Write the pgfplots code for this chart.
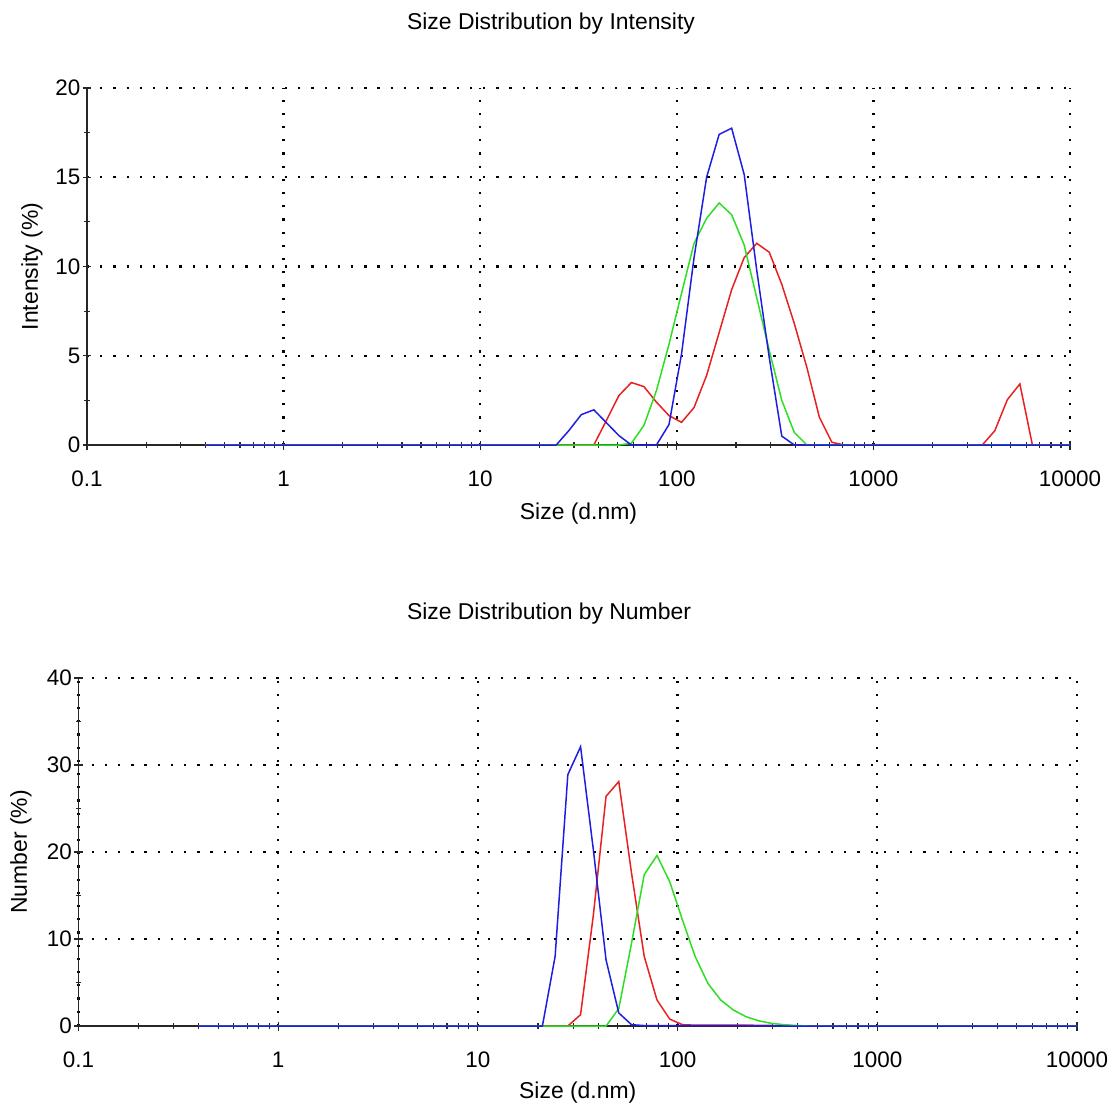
\documentclass[border=0pt]{standalone}
\usepackage{pgfplots}
\usepackage{pgfplotstable}
\pgfplotsset{compat=1.18}
\usepackage{fontspec}
\setmainfont{Liberation Sans}
\definecolor{dlsred}{RGB}{232,32,32}
\definecolor{dlsgreen}{RGB}{45,222,35}
\definecolor{dlsblue}{RGB}{30,30,225}

% size, intensity (red, green, blue), number (red, green, blue)
\pgfplotstableread{
s iR iG iB nR nG nB
0.4000 0 0 0 0 0 0
0.4632 0 0 0 0 0 0
0.5365 0 0 0 0 0 0
0.6213 0 0 0 0 0 0
0.7195 0 0 0 0 0 0
0.8332 0 0 0 0 0 0
0.9649 0 0 0 0 0 0
1.117 0 0 0 0 0 0
1.294 0 0 0 0 0 0
1.499 0 0 0 0 0 0
1.736 0 0 0 0 0 0
2.010 0 0 0 0 0 0
2.328 0 0 0 0 0 0
2.696 0 0 0 0 0 0
3.122 0 0 0 0 0 0
3.615 0 0 0 0 0 0
4.187 0 0 0 0 0 0
4.849 0 0 0 0 0 0
5.615 0 0 0 0 0 0
6.503 0 0 0 0 0 0
7.531 0 0 0 0 0 0
8.721 0 0 0 0 0 0
10.10 0 0 0 0 0 0
11.70 0 0 0 0 0 0
13.54 0 0 0 0 0 0
15.69 0 0 0 0 0 0
18.17 0 0 0 0 0 0
21.04 0 0 0 0 0 0
24.36 0 0 0 0 0 8.0
28.21 0 0 0.8 0 0 28.9
32.67 0 0 1.7 1.3 0 32.1
37.84 0 0 1.97 12.7 0 20.3
43.82 1.37 0 1.25 26.4 0 7.6
50.75 2.77 0 0.53 28.1 2.0 1.5
58.77 3.5 0.1 0 17.6 9.5 0.15
68.06 3.27 1.1 0 8.0 17.4 0.05
78.82 2.4 3.05 0 3.0 19.6 0.05
91.28 1.65 5.65 1.15 0.8 16.6 0.05
105.7 1.27 8.5 5.1 0.15 12.2 0.05
122.4 2.1 11.3 10.5 0.1 8.0 0.05
141.8 3.9 12.7 15.0 0.1 4.9 0.05
164.2 6.3 13.56 17.4 0.1 3.0 0.05
190.1 8.7 12.9 17.75 0.1 1.84 0.05
220.2 10.5 11.2 15.15 0.1 1.07 0.03
255.0 11.3 8.25 9.8 0.08 0.6 0.02
295.3 10.8 5.3 4.9 0.06 0.3 0.01
342.0 9.0 2.5 0.5 0.04 0.15 0
396.1 6.8 0.7 0 0.02 0.05 0
458.7 4.35 0 0 0 0 0
531.2 1.55 0 0 0 0 0
615.1 0.15 0 0 0 0 0
712.4 0 0 0 0 0 0
825.0 0 0 0 0 0 0
955.4 0 0 0 0 0 0
1106 0 0 0 0 0 0
1281 0 0 0 0 0 0
1484 0 0 0 0 0 0
1718 0 0 0 0 0 0
1990 0 0 0 0 0 0
2305 0 0 0 0 0 0
2669 0 0 0 0 0 0
3091 0 0 0 0 0 0
3580 0 0 0 0 0 0
4145 0.8 0 0 0 0 0
4801 2.54 0 0 0 0 0
5560 3.42 0 0 0 0 0
6439 0 0 0 0 0 0
7456 0 0 0 0 0 0
8635 0 0 0 0 0 0
10000 0 0 0 0 0 0
}\dlsdata

\pgfplotsset{
  dlsaxis/.style={
    scale only axis,
    xmin=0.1, xmax=10000,
    ymin=0,
    axis lines=left,
    axis line style={-, line width=1.3bp, black!85},
    xtick={0.1,1,10,100,1000,10000},
    xticklabels={0.1,1,10,100,1000,10000},
    minor xtick={0.2,0.3,0.4,0.5,0.6,0.7,0.8,0.9,2,3,4,5,6,7,8,9,20,30,40,50,60,70,80,90,200,300,400,500,600,700,800,900,2000,3000,4000,5000,6000,7000,8000,9000},
    tick align=center,
    major tick length=9bp,
    minor tick length=6bp,
    every tick/.style={black!85, line width=1.1bp},
    grid=major,
    major grid style={black, line width=2.3bp, dash pattern=on 2.3bp off 10.9bp},
    /pgf/number format/assume math mode=true,
    tick label style={font=\fontsize{22.5}{26}\selectfont},
    xticklabel style={anchor=base, yshift=-37bp},
    yticklabel style={anchor=east, inner sep=2bp},
    label style={font=\fontsize{23}{27}\selectfont},
    title style={font=\fontsize{23}{27}\selectfont, anchor=base},
    clip=false,
    every axis plot/.append style={line width=1.5bp, no markers},
  }
}

\begin{document}
\begin{tikzpicture}
\path[use as bounding box] (0,0) rectangle (1114bp,-1106bp);

\begin{axis}[
  xmode=log,
  dlsaxis,
  at={(87bp,-445bp)}, anchor=south west,
  width=983bp, height=357bp,
  ymax=20,
  ytick={0,5,10,15,20},
  minor ytick={2.5,7.5,12.5,17.5},
  title={Size Distribution by Intensity},
  title style={at={([xshift=-27.5bp,yshift=53bp]axis description cs:0.5,1)}},
  xlabel={Size (d.nm)},
  xlabel style={at={([yshift=-74bp]axis description cs:0.5,0)}, anchor=base},
  ylabel={Intensity (\%)},
  ylabel style={at={([xshift=-49bp]axis description cs:0,0.5)}, anchor=base},
]
\addplot[dlsred] table[x=s, y=iR] {\dlsdata};
\addplot[dlsgreen] table[x=s, y=iG] {\dlsdata};
\addplot[dlsblue] table[x=s, y=iB] {\dlsdata};
\end{axis}

\begin{axis}[
  xmode=log,
  dlsaxis,
  at={(78.5bp,-1026bp)}, anchor=south west,
  width=998.5bp, height=348bp,
  ymax=40,
  ytick={0,10,20,30,40},
  minor ytick={5,15,25,35},
  title={Size Distribution by Number},
  title style={at={([xshift=-28.75bp,yshift=53bp]axis description cs:0.5,1)}},
  xlabel={Size (d.nm)},
  xlabel style={at={([yshift=-72bp]axis description cs:0.5,0)}, anchor=base},
  ylabel={Number (\%)},
  ylabel style={at={([xshift=-51.5bp]axis description cs:0,0.5)}, anchor=base},
]
\addplot[dlsred] table[x=s, y=nR] {\dlsdata};
\addplot[dlsgreen] table[x=s, y=nG] {\dlsdata};
\addplot[dlsblue] table[x=s, y=nB] {\dlsdata};
\end{axis}
\end{tikzpicture}
\end{document}
